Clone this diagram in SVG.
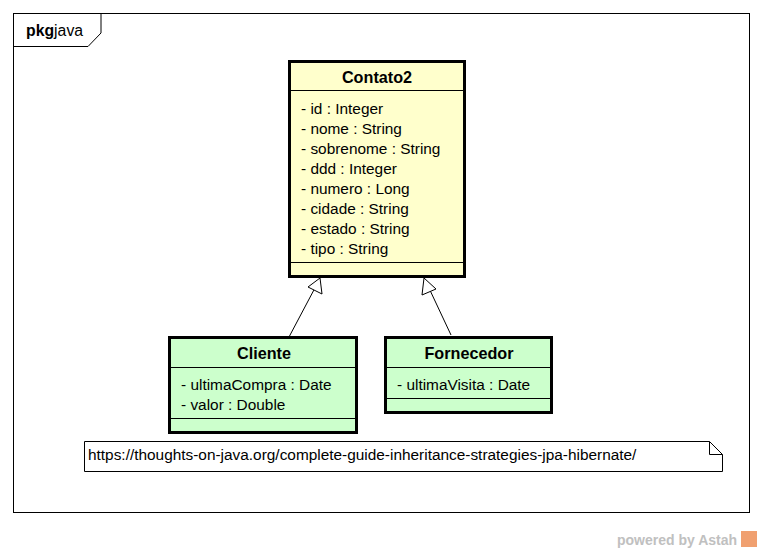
<svg xmlns="http://www.w3.org/2000/svg" width="762" height="552" viewBox="0 0 762 552">
<style>
text{font-family:"Liberation Sans",Arial,sans-serif;font-size:15.4px;fill:#000}
.b{font-weight:bold;text-anchor:middle;font-size:16.2px}
.cls{stroke:#000;stroke-width:3}
.ln{stroke:#000;stroke-width:1;fill:none}
</style>
<rect width="762" height="552" fill="#fff"/>
<g id="package">
<rect x="13.5" y="13.5" width="736" height="499" fill="#fff" stroke="#000"/>
<path d="M13.5 46.5 H88 L101 33 V13.5" class="ln"/>
<text x="26" y="36" style="font-size:15.8px"><tspan font-weight="bold">pkg</tspan>java</text>
</g>
<g id="connectors">
<path d="M289 337 L316 286" class="ln"/>
<path d="M320 278 L322 294 L308 287 Z" fill="#fff" stroke="#000"/>
<path d="M451 335 L428 286" class="ln"/>
<path d="M424 278 L436 289 L422 295 Z" fill="#fff" stroke="#000"/>
</g>
<g id="Contato2">
<rect x="289.5" y="61.5" width="175" height="215" fill="#ffffcc" class="cls"/>
<line x1="289" y1="90.5" x2="464" y2="90.5" class="ln"/>
<line x1="289" y1="262.5" x2="464" y2="262.5" class="ln"/>
<text x="377" y="83" class="b">Contato2</text>
<text x="301" y="114">- id : Integer</text>
<text x="301" y="134">- nome : String</text>
<text x="301" y="154">- sobrenome : String</text>
<text x="301" y="174">- ddd : Integer</text>
<text x="301" y="194">- numero : Long</text>
<text x="301" y="214">- cidade : String</text>
<text x="301" y="234">- estado : String</text>
<text x="301" y="254">- tipo : String</text>
</g>
<g id="Cliente">
<rect x="169.5" y="337.5" width="187" height="95" fill="#ccffcc" class="cls"/>
<line x1="169" y1="367.5" x2="357" y2="367.5" class="ln"/>
<line x1="169" y1="418.5" x2="357" y2="418.5" class="ln"/>
<text x="264" y="359" class="b">Cliente</text>
<text x="181" y="390">- ultimaCompra : Date</text>
<text x="181" y="410">- valor : Double</text>
</g>
<g id="Fornecedor">
<rect x="385.5" y="337.5" width="166" height="75" fill="#ccffcc" class="cls"/>
<line x1="385" y1="367.5" x2="552" y2="367.5" class="ln"/>
<line x1="385" y1="398.5" x2="552" y2="398.5" class="ln"/>
<text x="469" y="359" class="b">Fornecedor</text>
<text x="397" y="390">- ultimaVisita : Date</text>
</g>
<g id="note">
<path d="M84.5 441.5 H709.5 L722.5 454.5 V471.5 H84.5 Z" fill="#fff" stroke="#000"/>
<path d="M709.5 441.5 V454.5 H722.5" class="ln"/>
<text x="88" y="460">https://thoughts-on-java.org/complete-guide-inheritance-strategies-jpa-hibernate/</text>
</g>
<g id="watermark">
<text x="617" y="545" style="font-weight:bold;fill:#c0c0c0;font-size:14px">powered by Astah</text>
<rect x="741" y="531" width="16" height="16" fill="#f0a070"/>
</g>
</svg>
